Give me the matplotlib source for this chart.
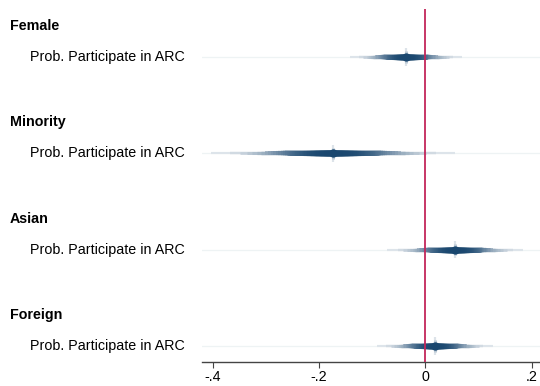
import numpy as np
import matplotlib
matplotlib.use("Agg")
import matplotlib.pyplot as plt
import matplotlib.transforms as mtransforms
from matplotlib.colors import to_rgb
from statistics import NormalDist

# Coefficient estimates with 99% confidence bounds
groups = ["Female", "Minority", "Asian", "Foreign"]
coef_label = "Prob. Participate in ARC"
estimates = [-0.036, -0.174, 0.056, 0.018]
ci99_low = [-0.142, -0.403, -0.072, -0.091]
ci99_high = [0.069, 0.056, 0.185, 0.126]
xticks = [-0.4, -0.2, 0.0, 0.2]
xticklabels = ["-.4", "-.2", "0", ".2"]

Z99 = 2.5758
navy = np.array(to_rgb("#1a476f"))
white = np.ones(3)
PT = 72 / 100  # points per pixel


def shade(inten):
    return white * (1 - inten) + navy * inten


plt.rcParams["font.family"] = ["Liberation Sans", "DejaVu Sans"]

fig = plt.figure(figsize=(5.4, 3.86), dpi=100)
ax = fig.add_axes([202 / 540, 1 - 362 / 386, 338 / 540, 353 / 386])

rows = np.arange(len(groups))
ax.set_ylim(3.166, -0.498)
ax.set_xlim(-0.42, 0.2157)

# light row guides
for r in rows:
    ax.axhline(r, color="#eef3f4", lw=0.9, zorder=0)

# reference line at zero
ax.axvline(0, color="#c3265a", lw=1.3, zorder=5)

# smoothed confidence intervals: nested levels, darker and thicker inward
levels = np.linspace(1, 99, 50)[::-1]
nd = NormalDist()
for r, b, lo, hi in zip(rows, estimates, ci99_low, ci99_high):
    se = (hi - lo) / (2 * Z99)
    for lev in levels:
        z = nd.inv_cdf(0.5 + lev / 200)
        frac = lev / 100
        width_px = 2.0 + 3.2 * (1 - frac ** 4)
        inten = 0.12 + 0.88 * (1 - frac ** 3.2)
        ax.plot([b - z * se, b + z * se], [r, r], color=shade(inten),
                lw=width_px * PT, solid_capstyle="butt", zorder=2)
    # faint vertical glint at the point estimate
    ax.vlines(b, r - 0.09, r + 0.09, color=shade(0.15), lw=2.2 * PT, zorder=2.5)
    ax.vlines(b, r - 0.06, r + 0.06, color=shade(0.3), lw=3.0 * PT, zorder=2.6)
    ax.plot(b, r, "o", color="#1a476f", ms=6.0, mec="none", zorder=4)

# axis styling
for s in ["left", "right", "top"]:
    ax.spines[s].set_visible(False)
ax.spines["bottom"].set_color("#444444")
ax.spines["bottom"].set_linewidth(1.0)
ax.set_yticks([])
ax.set_xticks(xticks)
ax.set_xticklabels(xticklabels, fontsize=10.3)
ax.tick_params(axis="x", length=4, width=0.8, color="#444444", pad=2)

# group headers and coefficient labels on the left
trans = mtransforms.blended_transform_factory(fig.transFigure, ax.transData)
for r, g in zip(rows, groups):
    ax.text(10 / 540, r - 0.32, g, transform=trans, fontsize=10.3,
            fontweight="bold", ha="left", va="center", clip_on=False)
    ax.text(30 / 540, r, coef_label, transform=trans, fontsize=10.3,
            ha="left", va="center", clip_on=False)

fig.savefig("out.png", dpi=100)
